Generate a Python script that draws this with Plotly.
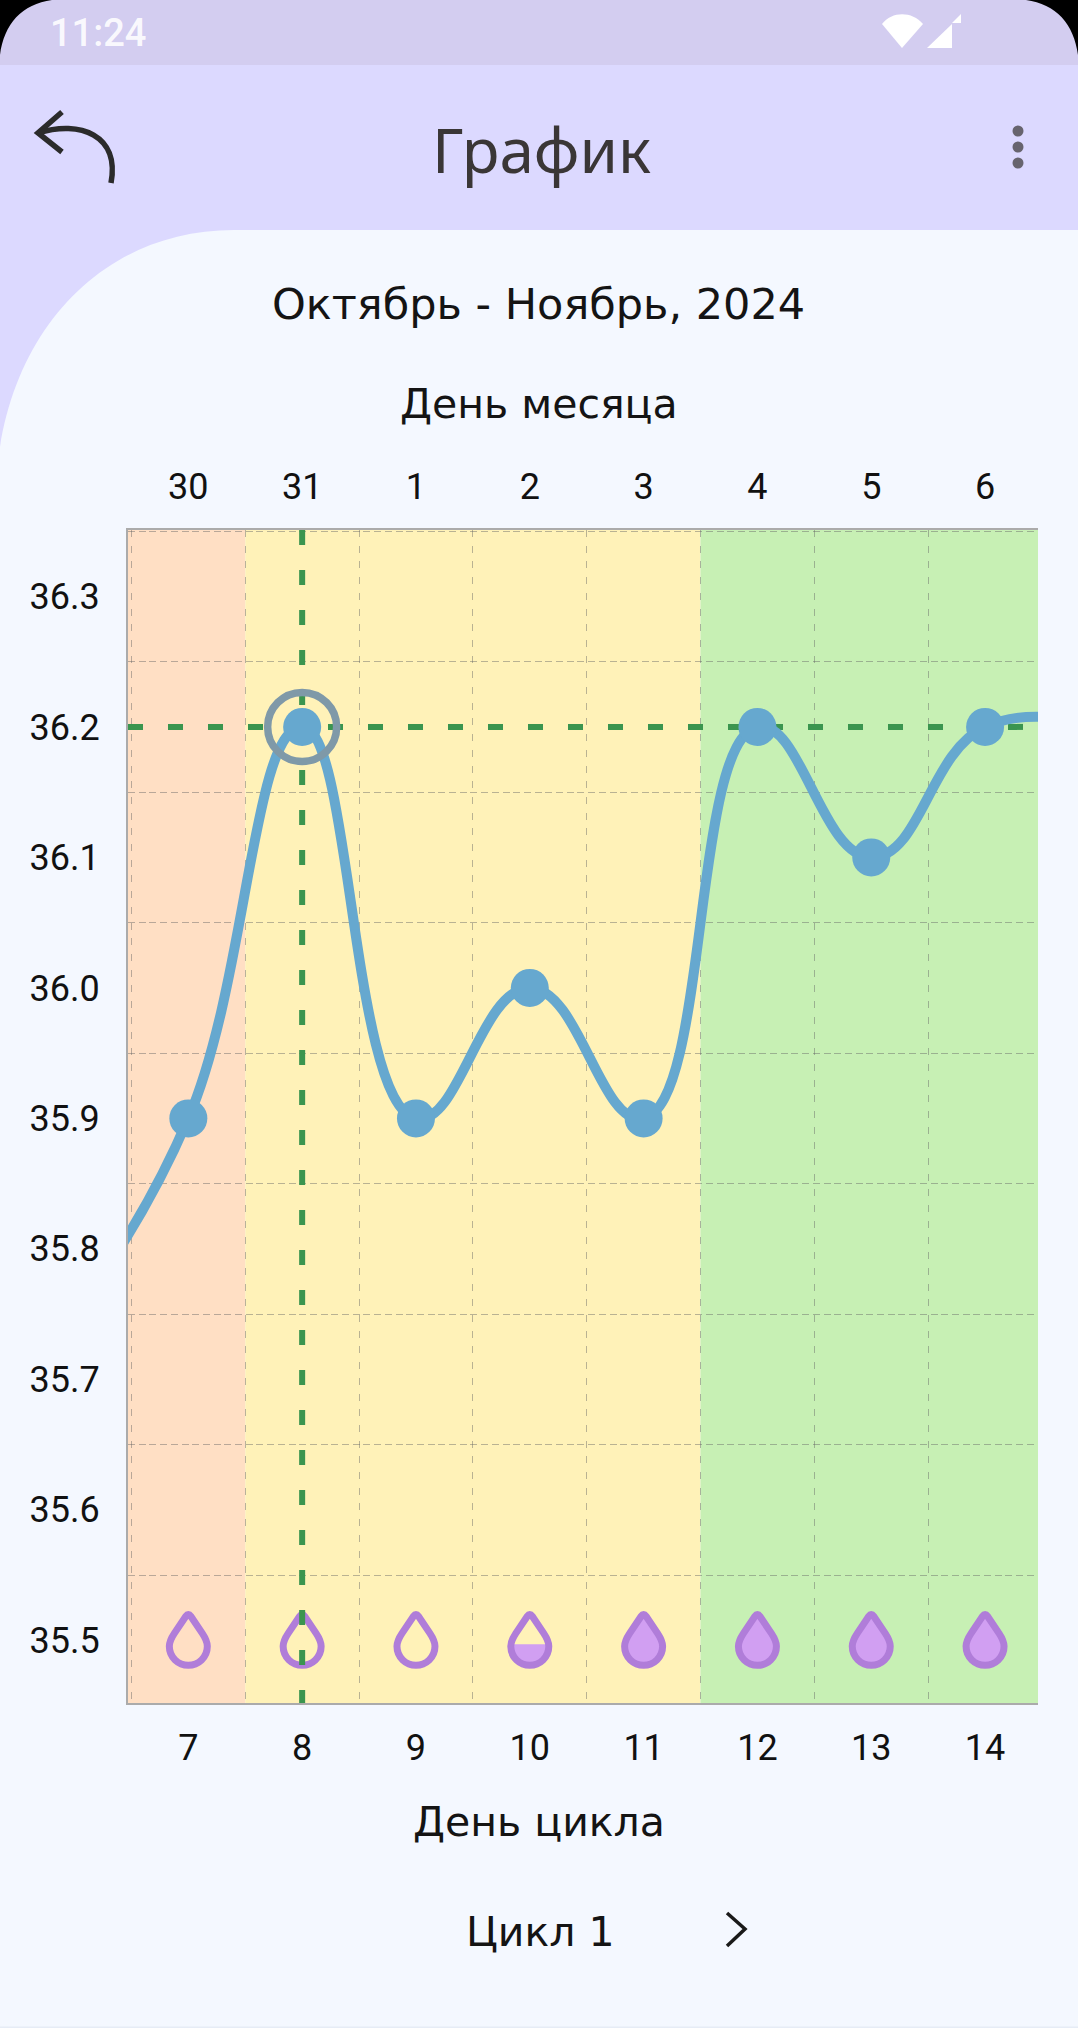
import re

from plotly import graph_objs as go

# values
cycle_days = [6, 7, 8, 9, 10, 11, 12, 13, 14, 15]
month_days = ['29', '30', '31', '1', '2', '3', '4', '5', '6', '7']
temps = [35.75, 35.9, 36.2, 35.9, 36.0, 35.9, 36.2, 36.1, 36.2, 36.2]
y_ticks = [35.5, 35.6, 35.7, 35.8, 35.9, 36.0, 36.1, 36.2, 36.3]
y_grid = [35.55, 35.65, 35.75, 35.85, 35.95, 36.05, 36.15, 36.25, 36.35]
x_grid = [6.5, 7.5, 8.5, 9.5, 10.5, 11.5, 12.5, 13.5]
ovulation_day = 8
ovulation_temp = 36.2
zone_starts = [6.47, 7.5, 11.5]
zone_ends = [7.5, 11.5, 14.47]
zone_colors = ['#FFDFC4', '#FFF2B8', '#C7F0B4']
drop_days = [7, 8, 9, 10, 11, 12, 13, 14]
drop_levels = [0, 0, 0, 0.5, 1, 1, 1, 1]
drop_temp = 35.5

W, H = 1078, 2028
X_RANGE = [6.47, 14.465]
Y_RANGE = [35.452, 36.3509]
BG = '#F4F8FF'
GRID = 'rgba(100,100,100,0.45)'
AXIS = '#ABABAB'
DROP_LINE = '#B07DD9'
DROP_FILL = '#D19FF2'
BLUE = '#66A8CF'
GREEN = '#3B954F'
TICK_FONT = dict(family='Roboto', size=36, color='#111111')
TEXT_FONT = 'DejaVu Sans'


def page_path(path):
    # page pixels -> paper fractions
    def conv(m):
        return f'{float(m[1]) / W:.5f},{1 - float(m[2]) / H:.5f}'
    return re.sub(r'(-?[\d.]+),(-?[\d.]+)', conv, path)


def chrome(path, fill=None, line=None, width=0):
    return dict(type='path', xref='paper', yref='paper', layer='below',
                path=page_path(path), fillcolor=fill or 'rgba(0,0,0,0)',
                line=dict(color=line or 'rgba(0,0,0,0)', width=width))


def circle(cx, cy, r, fill):
    return dict(type='circle', xref='paper', yref='paper', layer='below',
                x0=(cx - r) / W, x1=(cx + r) / W, y0=1 - (cy + r) / H, y1=1 - (cy - r) / H,
                fillcolor=fill, line=dict(width=0))


def label(text, x, y, size, color='#141414', family=TEXT_FONT, weight=None):
    font = dict(family=family, size=size, color=color)
    if weight:
        font['weight'] = weight
    return dict(text=text, xref='paper', yref='paper', x=x / W, y=1 - y / H,
                xanchor='center', yanchor='middle', showarrow=False, font=font)


OUTLINE = ('M -2.5,24 Q 0,27.5 2.5,24 L 14,7 C 18,1 19,-3 19,-6 C 19,-17 10,-25 0,-25 '
           'C -10,-25 -19,-17 -19,-6 C -19,-3 -18,1 -14,7 Z')
HALF = 'M -19,-4 L 19,-4 C 19,-17 10,-25 0,-25 C -10,-25 -19,-17 -19,-4 Z'

shapes = [
    chrome('M 0,0 L 1078,0 L 1078,65 L 0,65 Z', '#D3CDF0'),
    chrome('M 0,65 L 1078,65 L 1078,230 L 0,230 Z', '#DCD9FF'),
    chrome('M 0,230 L 234,230 C 110,230 20,320 0,447 Z', '#DCD9FF'),
    chrome('M 0,0 L 52,0 C 22,4 4,24 0,55 Z', '#000000'),
    chrome('M 1078,0 L 1026,0 C 1056,4 1074,24 1078,55 Z', '#000000'),
    chrome('M 882,24 C 892,11 912,11 923,24 L 902,48 Z', '#FFFFFF'),
    chrome('M 927,48 L 952,24 L 952,48 Z', '#FFFFFF'),
    chrome('M 952,23 L 961,14 L 961,23 Z', '#FFFFFF'),
    chrome('M 62,112 L 38,133 L 62,152', None, '#2B2B2B', 5.5),
    chrome('M 38,133 C 80,120 120,135 111,183', None, '#2B2B2B', 5.5),
    circle(1018, 131, 5.5, '#67646E'),
    circle(1018, 147, 5.5, '#67646E'),
    circle(1018, 163, 5.5, '#67646E'),
    chrome('M 727,1913 L 745,1929 L 727,1946', None, '#1A1A1A', 3.5),
    chrome('M 0,2026.5 L 1078,2026.5 L 1078,2028 L 0,2028 Z', '#E6ECF6'),
]

for x0, x1, color in zip(zone_starts, zone_ends, zone_colors):
    shapes.append(dict(type='rect', xref='x', yref='y', layer='below', x0=x0, x1=x1,
                       y0=Y_RANGE[0], y1=Y_RANGE[1], fillcolor=color, line=dict(width=0)))

for day, level in zip(drop_days, drop_levels):
    anchor = dict(type='path', xref='x', yref='y', layer='between', xsizemode='pixel', ysizemode='pixel',
                  xanchor=day, yanchor=drop_temp)
    if level == 0.5:
        shapes.append(dict(anchor, path=HALF, fillcolor=DROP_FILL, line=dict(width=0)))
    shapes.append(dict(anchor, path=OUTLINE,
                       fillcolor=DROP_FILL if level == 1 else 'rgba(0,0,0,0)',
                       line=dict(color=DROP_LINE, width=7)))

fig = go.Figure()
fig.add_trace(go.Scatter(x=[X_RANGE[0], X_RANGE[1]], y=[ovulation_temp, ovulation_temp], mode='lines',
                         line=dict(color=GREEN, width=6, dash='15px,25px')))
fig.add_trace(go.Scatter(x=[ovulation_day, ovulation_day], y=[Y_RANGE[1], Y_RANGE[0]], mode='lines',
                         line=dict(color=GREEN, width=6, dash='15px,25px')))
fig.add_trace(go.Scatter(x=cycle_days, y=temps, mode='lines+markers',
                         line=dict(color=BLUE, width=10, shape='spline', smoothing=1.3),
                         marker=dict(color=BLUE, size=38)))
fig.add_trace(go.Scatter(x=[ovulation_day], y=[ovulation_temp], mode='markers',
                         marker=dict(symbol='circle-open', size=69, color='#7F99A8', line=dict(width=7.5, color='#7F99A8'))))
# carries the top axis
fig.add_trace(go.Scatter(x=cycle_days, y=temps, xaxis='x2', mode='none'))

fig.update_layout(
    width=W, height=H, margin=dict(l=0, r=0, t=0, b=0), autosize=False,
    paper_bgcolor=BG, plot_bgcolor='rgba(0,0,0,0)', showlegend=False, hovermode=False,
    shapes=shapes,
    xaxis=dict(domain=[128 / W, 1038 / W], range=X_RANGE, tickvals=cycle_days, ticktext=[str(d) for d in cycle_days],
               tickfont=TICK_FONT, ticklabelstandoff=12, showgrid=False, zeroline=False,
               showline=True, linecolor=AXIS, linewidth=2,
               minor=dict(tickvals=x_grid, showgrid=True, gridcolor=GRID, gridwidth=1.4, griddash='7px,8.7px')),
    xaxis2=dict(overlaying='x', side='top', range=X_RANGE, tickvals=cycle_days, ticktext=month_days,
                tickfont=TICK_FONT, ticklabelstandoff=15, showgrid=False, zeroline=False,
                showline=True, linecolor=AXIS, linewidth=2),
    yaxis=dict(domain=[1 - 1703 / H, 1 - 530 / H], range=Y_RANGE, tickvals=y_ticks, ticktext=[f'{v:.1f}' for v in y_ticks],
               tickfont=TICK_FONT, ticklabelstandoff=19, showgrid=False, zeroline=False,
               showline=True, linecolor=AXIS, linewidth=2,
               minor=dict(tickvals=y_grid, showgrid=True, gridcolor=GRID, gridwidth=1.4, griddash='7px,3.7px')),
    annotations=[
        label('11:24', 98, 33, 38, 'rgba(255,255,255,0.9)', 'Roboto', 500),
        label('График', 541, 149, 62, '#3A3636', 'Noto Sans'),
        label('Октябрь - Ноябрь, 2024', 538, 304, 43),
        label('День месяца', 539, 404, 41),
        label('День цикла', 539, 1822, 41),
        label('Цикл 1', 540, 1932, 41),
    ],
)

fig.write_html('out.html', config=dict(displayModeBar=False),
               post_script="document.body.style.margin='0';document.body.style.overflow='hidden';")
